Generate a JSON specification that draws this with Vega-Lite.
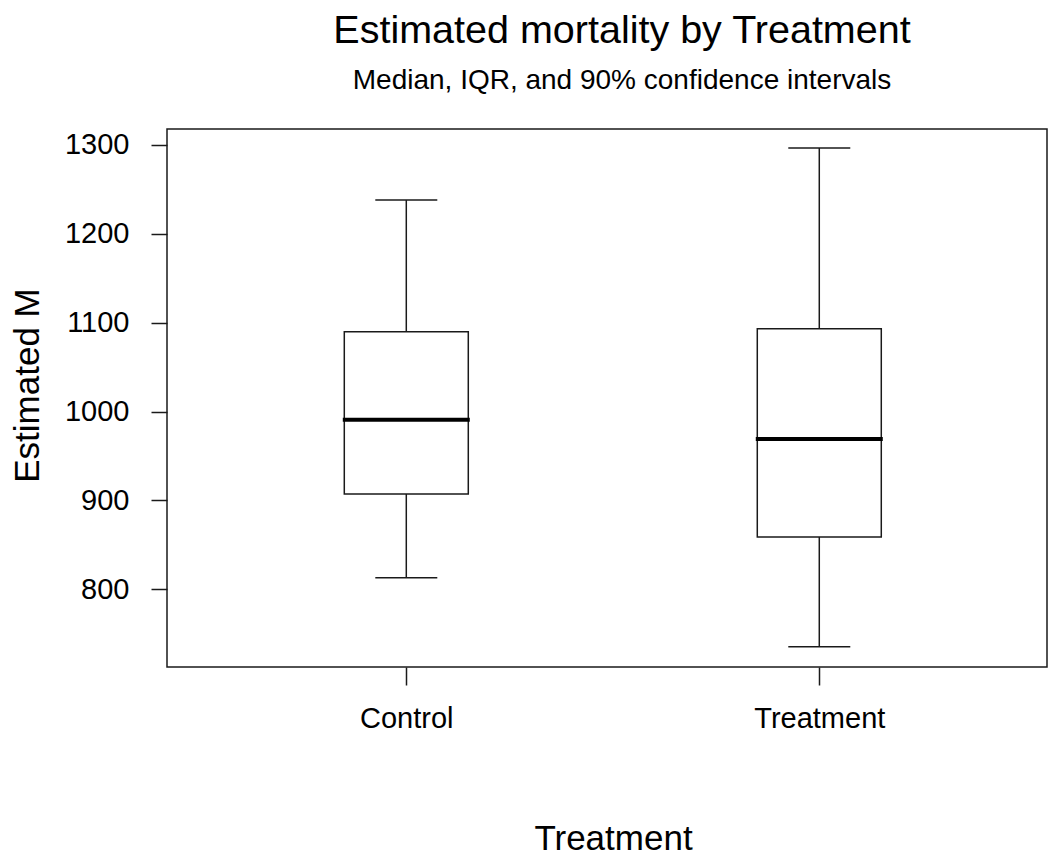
{
  "$schema": "https://vega.github.io/schema/vega-lite/v6.json",
  "autosize": "none",
  "width": 880,
  "height": 538,
  "padding": {"left": 167, "top": 129, "right": 5, "bottom": 186},
  "background": "white",
  "config": {
    "view": {"stroke": "#1a1a1a", "strokeWidth": 1.5},
    "font": "Liberation Sans"
  },
  "title": {
    "text": "Estimated mortality by Treatment",
    "subtitle": "Median, IQR, and 90% confidence intervals",
    "anchor": "middle",
    "frame": "group",
    "dx": 15,
    "font": "Liberation Sans",
    "fontSize": 39.5,
    "fontWeight": "normal",
    "color": "black",
    "subtitleFont": "Liberation Sans",
    "subtitleFontSize": 28,
    "subtitleColor": "black",
    "subtitlePadding": 16,
    "offset": 33
  },
  "data": {
    "values": [
      {"Treatment": "Control", "lower": 813, "q1": 907.3, "median": 990.9, "q3": 1089.9, "upper": 1238},
      {"Treatment": "Treatment", "lower": 735.5, "q1": 858.9, "median": 969.2, "q3": 1093.3, "upper": 1296.6}
    ]
  },
  "encoding": {
    "x": {
      "field": "Treatment",
      "type": "nominal",
      "sort": ["Control", "Treatment"],
      "scale": {"type": "point", "domain": ["Control", "Treatment"], "padding": 0.5654, "align": 0.5124},
      "axis": {
        "title": "Treatment",
        "domain": false,
        "grid": false,
        "labelAngle": 0,
        "labelFont": "Liberation Sans",
        "labelFontSize": 29,
        "labelColor": "black",
        "labelPadding": 19,
        "tickColor": "#1a1a1a",
        "tickWidth": 1.5,
        "tickSize": 18,
        "titleFont": "Liberation Sans",
        "titleFontSize": 35,
        "titleFontWeight": "normal",
        "titleColor": "black",
        "titleBaseline": "alphabetic",
        "titleX": 446,
        "titleY": 182
      }
    }
  },
  "layer": [
    {
      "mark": {"type": "rule", "color": "#1a1a1a", "strokeWidth": 1.5},
      "encoding": {
        "y": {
          "field": "lower",
          "type": "quantitative",
          "scale": {"domain": [712.6, 1318], "nice": false, "zero": false},
          "axis": {
            "title": "Estimated M",
            "values": [800, 900, 1000, 1100, 1200, 1300],
            "format": "d",
            "domain": false,
            "grid": false,
            "labelFont": "Liberation Sans",
            "labelFontSize": 29,
            "labelColor": "black",
            "labelPadding": 22,
            "tickColor": "#1a1a1a",
            "tickWidth": 1.5,
            "tickSize": 16,
            "titleFont": "Liberation Sans",
            "titleFontSize": 35,
            "titleFontWeight": "normal",
            "titleColor": "black",
            "titleBaseline": "alphabetic",
            "titleAngle": -90,
            "titleX": -129,
            "titleY": 256
          }
        },
        "y2": {"field": "q1"}
      }
    },
    {
      "mark": {"type": "rule", "color": "#1a1a1a", "strokeWidth": 1.5},
      "encoding": {
        "y": {"field": "q3", "type": "quantitative"},
        "y2": {"field": "upper"}
      }
    },
    {
      "mark": {"type": "bar", "fill": "white", "stroke": "#1a1a1a", "strokeWidth": 1.5, "size": 124},
      "encoding": {
        "y": {"field": "q1", "type": "quantitative"},
        "y2": {"field": "q3"}
      }
    },
    {
      "mark": {"type": "tick", "color": "#1a1a1a", "size": 62, "thickness": 1.5, "opacity": 1},
      "encoding": {"y": {"field": "lower", "type": "quantitative"}}
    },
    {
      "mark": {"type": "tick", "color": "#1a1a1a", "size": 62, "thickness": 1.5, "opacity": 1},
      "encoding": {"y": {"field": "upper", "type": "quantitative"}}
    },
    {
      "mark": {"type": "tick", "color": "black", "size": 127, "thickness": 4, "opacity": 1},
      "encoding": {"y": {"field": "median", "type": "quantitative"}}
    }
  ]
}
